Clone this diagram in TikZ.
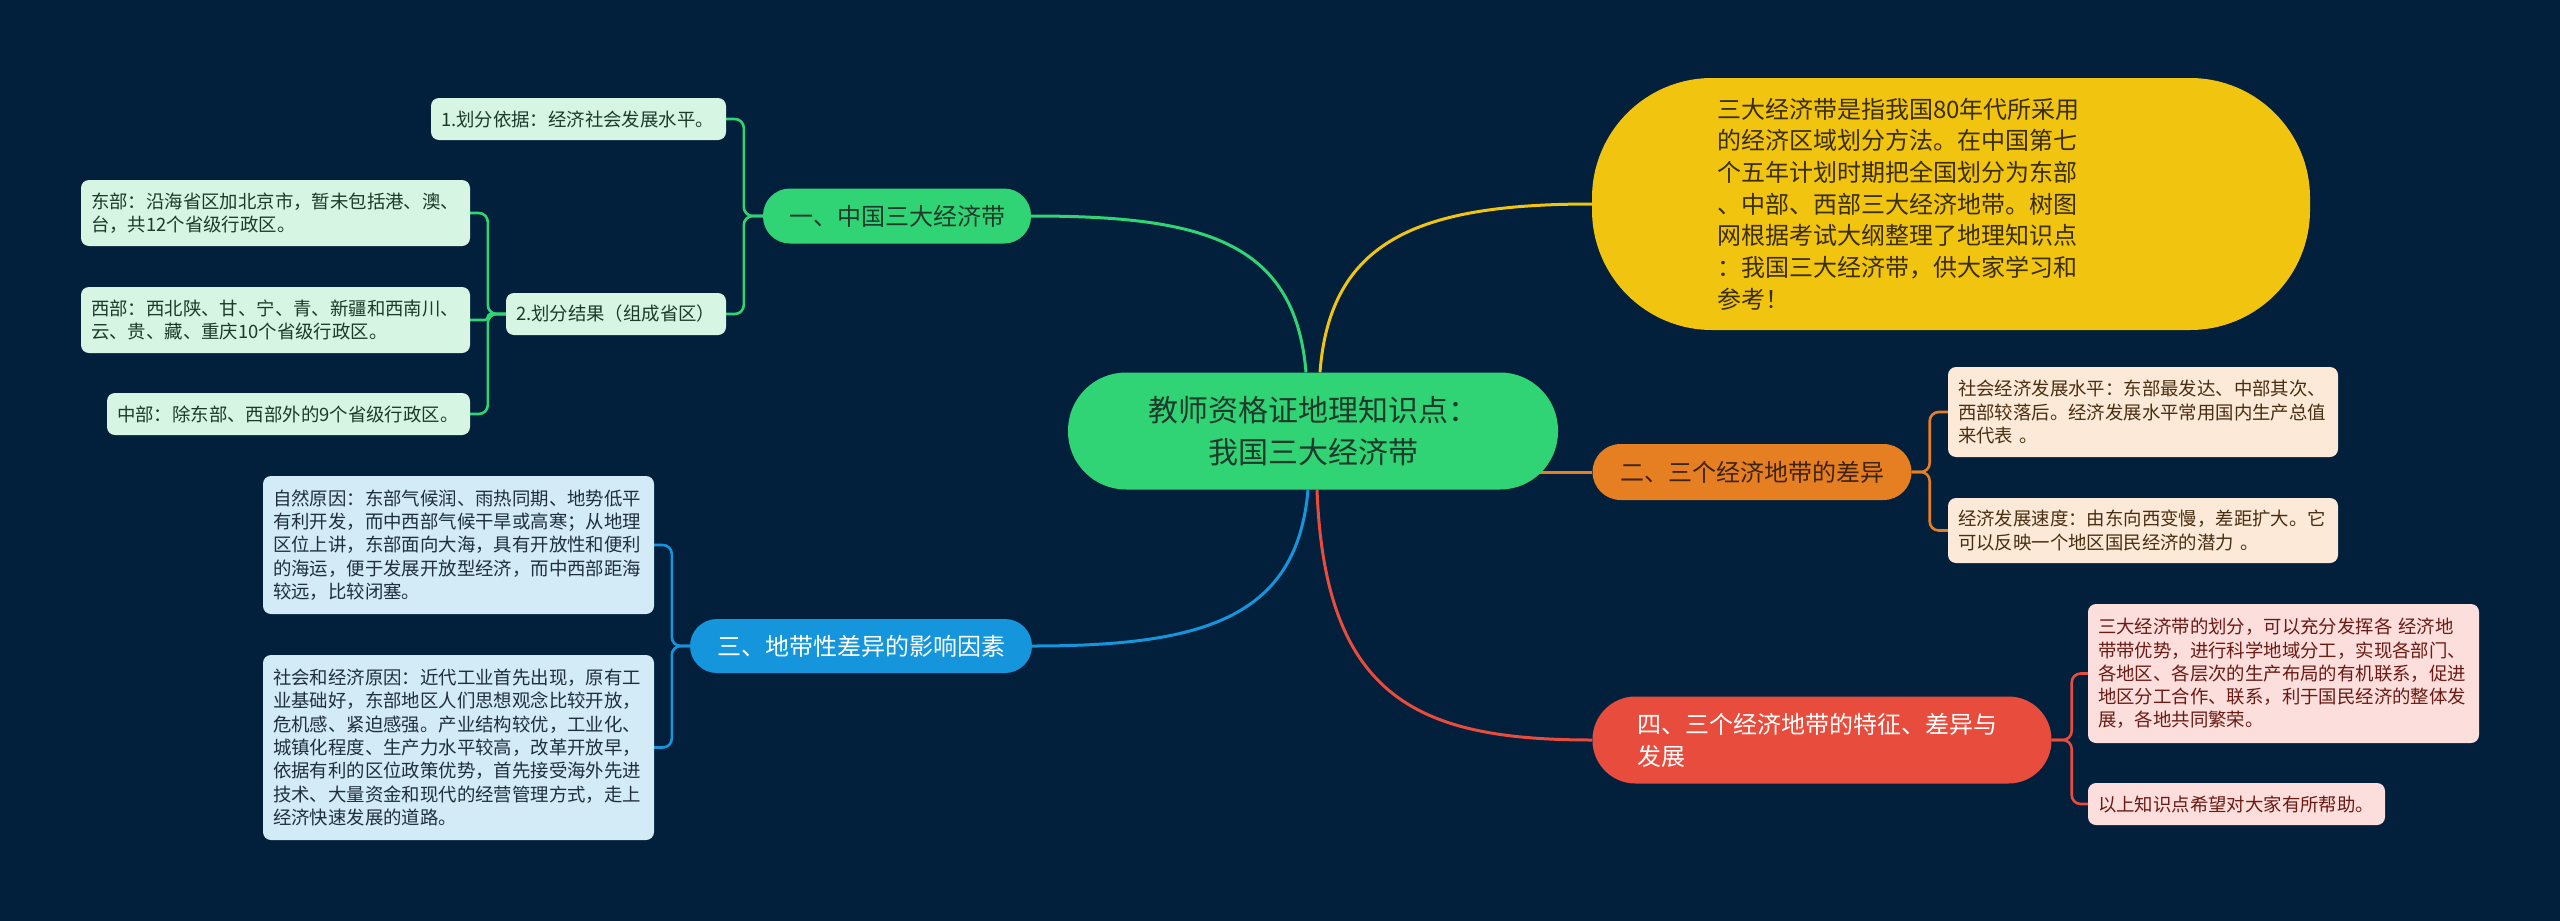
\documentclass[tikz,border=0pt]{standalone}
\usepackage{fontspec}
\setmainfont{Noto Sans CJK SC}
\usetikzlibrary{calc}
\definecolor{bgc}{HTML}{02203C}
\definecolor{cgreen}{HTML}{31D474}
\definecolor{lgreen}{HTML}{D6F5E3}
\definecolor{dgreen}{HTML}{1E3A2B}
\definecolor{cyellow}{HTML}{F1C40F}
\definecolor{ytext}{HTML}{3A2E05}
\definecolor{corange}{HTML}{E67E22}
\definecolor{lorange}{HTML}{FCE9D7}
\definecolor{dorange}{HTML}{3D2410}
\definecolor{torange}{HTML}{4A2E12}
\definecolor{cblue}{HTML}{1495DC}
\definecolor{lblue}{HTML}{D3EAF7}
\definecolor{dblue}{HTML}{1F2F3D}
\definecolor{cred}{HTML}{E74C3C}
\definecolor{lred}{HTML}{FCDFDC}
\definecolor{dred}{HTML}{6B1A14}
\pgfdeclarelayer{edges}
\pgfsetlayers{edges,main}
\begin{document}
\begin{tikzpicture}[x=1pt,y=-1pt,
  lvl/.style={inner sep=0pt, align=center, font=\fontsize{24}{32}\selectfont},
  leaf/.style={rounded corners=8pt, inner xsep=10pt, inner ysep=0pt, align=left,
     font=\fontsize{18.4}{23.3}\selectfont},
  leafG/.style={leaf, fill=lgreen, text=dgreen},
  leafB/.style={leaf, fill=lblue, text=dblue},
  leafO/.style={leaf, fill=lorange, text=torange},
  leafR/.style={leaf, fill=lred, text=dred},
  conn/.style={line width=3pt},
  sub/.style={line width=2.6pt, rounded corners=9pt}
]
\useasboundingbox (0,0) rectangle (2560,921);

% central node
\node[lvl, fill=cgreen, text=dgreen, minimum width=490, minimum height=117,
  rounded corners=58pt, font=\fontsize{30}{42}\selectfont] (c) at (1313,431)
  {教师资格证地理知识点：\\我国三大经济带};

% level one
\node[lvl, fill=cgreen, text=dgreen, minimum width=268, minimum height=55,
  rounded corners=27pt] (g1) at (897,216) {一、中国三大经济带};
\node[lvl, fill=corange, text=dorange, minimum width=319, minimum height=56,
  rounded corners=28pt] (o) at (1752,472) {二、三个经济地带的差异};
\node[lvl, fill=cblue, text=white, minimum width=342, minimum height=54,
  rounded corners=27pt] (b) at (861,646) {三、地带性差异的影响因素};
\node[lvl, fill=cred, text=white, minimum height=87, text width=369, inner xsep=45pt,
  align=left, rounded corners=43pt] (r) at (1822,740)
  {四、三个经济地带的特征、差异与\\发展};

% yellow description
\node[fill=cyellow, minimum width=718, minimum height=252, rounded corners=120pt,
  inner sep=0pt] (y) at (1951,204) {};
\node[anchor=west, inner sep=0pt, text width=366, align=left, text=ytext,
  font=\fontsize{24}{31.7}\selectfont] (yt) at (1717,204)
  {三大经济带是指我国80年代所采用\\的经济区域划分方法。在中国第七\\个五年计划时期把全国划分为东部\\、中部、西部三大经济地带。树图\\网根据考试大纲整理了地理知识点\\：我国三大经济带，供大家学习和\\参考！};

% green leaves
\node[leafG, text width=275, minimum height=42] (l1) at (578.5,119)
  {1.划分依据：经济社会发展水平。};
\node[leafG, text width=200, minimum height=42] (l2) at (616,314)
  {2.划分结果（组成省区）};
\node[leafG, text width=369, minimum height=66] (d1) at (275.5,213)
  {东部：沿海省区加北京市，暂未包括港、澳、\\台，共12个省级行政区。};
\node[leafG, text width=369, minimum height=66] (d2) at (275.5,320)
  {西部：西北陕、甘、宁、青、新疆和西南川、\\云、贵、藏、重庆10个省级行政区。};
\node[leafG, text width=343, minimum height=42] (d3) at (288.5,414)
  {中部：除东部、西部外的9个省级行政区。};

% blue leaves
\node[leafB, text width=371, minimum height=138] (n1) at (458.5,545)
  {自然原因：东部气候润、雨热同期、地势低平\\有利开发，而中西部气候干旱或高寒；从地理\\区位上讲，东部面向大海，具有开放性和便利\\的海运，便于发展开放型经济，而中西部距海\\较远，比较闭塞。};
\node[leafB, text width=371, minimum height=185] (n2) at (458.5,747.5)
  {社会和经济原因：近代工业首先出现，原有工\\业基础好，东部地区人们思想观念比较开放，\\危机感、紧迫感强。产业结构较优，工业化、\\城镇化程度、生产力水平较高，改革开放早，\\依据有利的区位政策优势，首先接受海外先进\\技术、大量资金和现代的经营管理方式，走上\\经济快速发展的道路。};

% orange leaves
\node[leafO, text width=370, minimum height=90] (p1) at (2143,412)
  {社会经济发展水平：东部最发达、中部其次、\\西部较落后。经济发展水平常用国内生产总值\\来代表 。};
\node[leafO, text width=370, minimum height=65] (p2) at (2143,530.5)
  {经济发展速度：由东向西变慢，差距扩大。它\\可以反映一个地区国民经济的潜力 。};

% red leaves
\node[leafR, text width=371, minimum height=139] (x1) at (2283.5,673.5)
  {三大经济带的划分，可以充分发挥各 经济地\\带带优势，进行科学地域分工，实现各部门、\\各地区、各层次的生产布局的有机联系，促进\\地区分工合作、联系，利于国民经济的整体发\\展，各地共同繁荣。};
\node[leafR, text width=277, minimum height=42] (x2) at (2236.5,804)
  {以上知识点希望对大家有所帮助。};

\begin{pgfonlayer}{edges}
\fill[bgc] (0,0) rectangle (2560,921);
% main branches
\draw[conn, cgreen] ([xshift=-7pt]c.north) .. controls +(-11,-133) and +(169,0) .. (g1.east);
\draw[conn, cyellow] ([xshift=7pt]c.north) .. controls +(10,-133) and +(-172,0) .. (y.west);
\draw[conn, cblue] ([xshift=-5pt]c.south) .. controls +(-11,130) and +(168,0) .. (b.east);
\draw[conn, cred] ([xshift=4pt]c.south) .. controls +(8,210) and +(-173,0) .. (r.west);
\draw[conn, corange] (c.center |- o.west) -- (o.west);
% sub branches
\draw[sub, cgreen] (g1.west) -- ++(-19,0) |- (l1.east);
\draw[sub, cgreen] (g1.west) -- ++(-19,0) |- (l2.east);
\draw[sub, cgreen] (l2.west) -- ++(-18,0) |- (d1.east);
\draw[sub, cgreen, rounded corners=3pt] (l2.west) -- ++(-18,0) |- (d2.east);
\draw[sub, cgreen] (l2.west) -- ++(-18,0) |- (d3.east);
\draw[sub, cblue] (b.west) -- ++(-18,0) |- (n1.east);
\draw[sub, cblue] (b.west) -- ++(-18,0) |- (n2.east);
\draw[sub, corange] (o.east) -- ++(18,0) |- (p1.west);
\draw[sub, corange] (o.east) -- ++(18,0) |- (p2.west);
\draw[sub, cred] (r.east) -- ++(20,0) |- (x1.west);
\draw[sub, cred] (r.east) -- ++(20,0) |- (x2.west);
\end{pgfonlayer}
\end{tikzpicture}
\end{document}
